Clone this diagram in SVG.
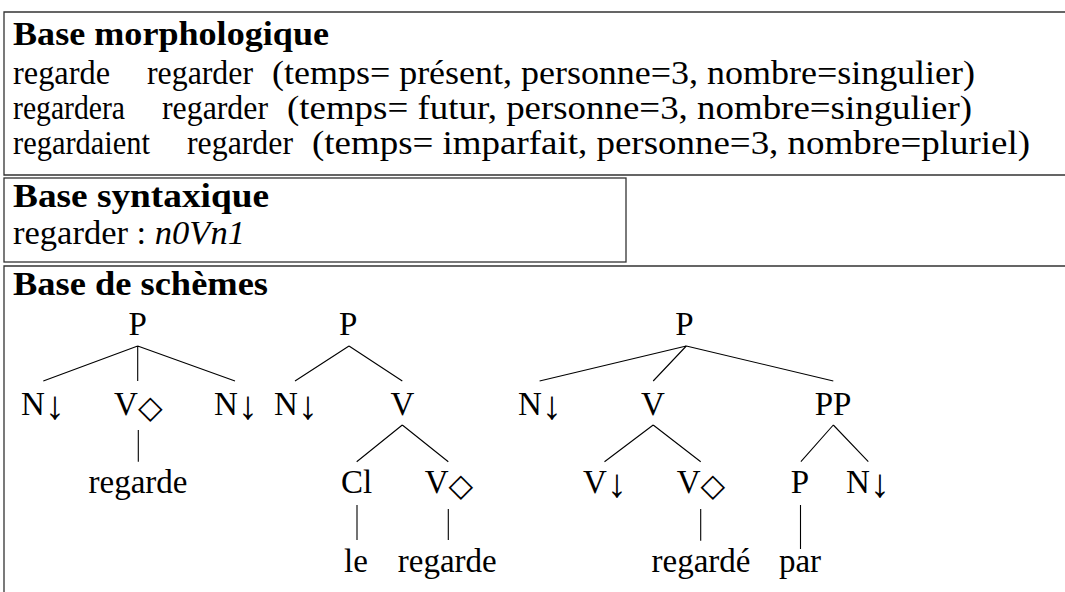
<svg xmlns="http://www.w3.org/2000/svg" width="1065" height="592" viewBox="0 0 1065 592">
<style>
text{font-family:"Liberation Serif","DejaVu Serif",serif;font-size:33px;fill:#000}
.b{font-weight:bold}
.i{font-style:italic}
.c{text-anchor:middle}
.box{fill:none;stroke:#333;stroke-width:1.3}
.e{stroke:#000;stroke-width:1.1;fill:none}
.d{font-family:"DejaVu Sans",sans-serif;font-size:32px}
.a{font-size:40px}
</style>
<rect width="1065" height="592" fill="#fff"/>
<g id="base-morphologique">
<path class="box" d="M1066,12H4V175H1066"/>
<text class="b" x="13" y="45" textLength="316" lengthAdjust="spacingAndGlyphs">Base morphologique</text>
<text x="13" y="84" textLength="97" lengthAdjust="spacingAndGlyphs">regarde</text>
<text x="147" y="84" textLength="106" lengthAdjust="spacingAndGlyphs">regarder</text>
<text x="272" y="84" textLength="703" lengthAdjust="spacingAndGlyphs">(temps= présent, personne=3, nombre=singulier)</text>
<text x="13" y="119" textLength="112" lengthAdjust="spacingAndGlyphs">regardera</text>
<text x="162" y="119" textLength="106" lengthAdjust="spacingAndGlyphs">regarder</text>
<text x="287" y="119" textLength="685" lengthAdjust="spacingAndGlyphs">(temps= futur, personne=3, nombre=singulier)</text>
<text x="13" y="154" textLength="137" lengthAdjust="spacingAndGlyphs">regardaient</text>
<text x="187" y="154" textLength="106" lengthAdjust="spacingAndGlyphs">regarder</text>
<text x="312" y="154" textLength="718" lengthAdjust="spacingAndGlyphs">(temps= imparfait, personne=3, nombre=pluriel)</text>
</g>
<g id="base-syntaxique">
<rect class="box" x="4" y="178" width="622" height="84"/>
<text class="b" x="13" y="207" textLength="256" lengthAdjust="spacingAndGlyphs">Base syntaxique</text>
<text x="13" y="244" textLength="232" lengthAdjust="spacingAndGlyphs">regarder : <tspan class="i">n0Vn1</tspan></text>
</g>
<g id="base-schemes">
<path class="box" d="M1066,266H4V593"/>
<text class="b" x="13" y="295" textLength="255" lengthAdjust="spacingAndGlyphs">Base de schèmes</text>
</g>
<g id="connectors">
<path class="e" d="M137.7,346L43.3,381M137.7,346V381M137.7,346L235,381M138.3,430V461.7"/>
<path class="e" d="M349,346L295,381M349,346L402.3,381M402.3,425L356.7,461.7M402.3,425L448.3,461.7M357,505V540M448.3,509V540"/>
<path class="e" d="M686.3,346L539.6,381M686.3,346L653.2,381M686.3,346L833.3,381M653.2,425L604.5,461.7M653.2,425L700.7,461.7M833.3,425L800.9,461.7M833.3,425L868.3,461.7M700.7,509V540.7M800.5,505V549"/>
</g>
<g id="tree1">
<text class="c" x="137.7" y="335">P</text>
<text class="c" x="43" y="415">N<tspan class="a" dy="4">↓</tspan></text>
<text class="c" x="138.3" y="415">V<tspan class="d" dy="3">◇</tspan></text>
<text class="c" x="236" y="415">N<tspan class="a" dy="4">↓</tspan></text>
<text class="c" x="138" y="493">regarde</text>
</g>
<g id="tree2">
<text class="c" x="348.3" y="335">P</text>
<text class="c" x="296" y="415">N<tspan class="a" dy="4">↓</tspan></text>
<text class="c" x="402.3" y="415">V</text>
<text class="c" x="356.7" y="493">Cl</text>
<text class="c" x="449" y="493">V<tspan class="d" dy="3">◇</tspan></text>
<text class="c" x="356" y="572">le</text>
<text class="c" x="447.3" y="572">regarde</text>
</g>
<g id="tree3">
<text class="c" x="684.5" y="335">P</text>
<text class="c" x="540" y="415">N<tspan class="a" dy="4">↓</tspan></text>
<text class="c" x="653" y="415">V</text>
<text class="c" x="833" y="415">PP</text>
<text class="c" x="605" y="493">V<tspan class="a" dy="4">↓</tspan></text>
<text class="c" x="701" y="493">V<tspan class="d" dy="3">◇</tspan></text>
<text class="c" x="800" y="493">P</text>
<text class="c" x="868" y="493">N<tspan class="a" dy="4">↓</tspan></text>
<text class="c" x="701" y="572">regardé</text>
<text class="c" x="800" y="572">par</text>
</g>
</svg>
